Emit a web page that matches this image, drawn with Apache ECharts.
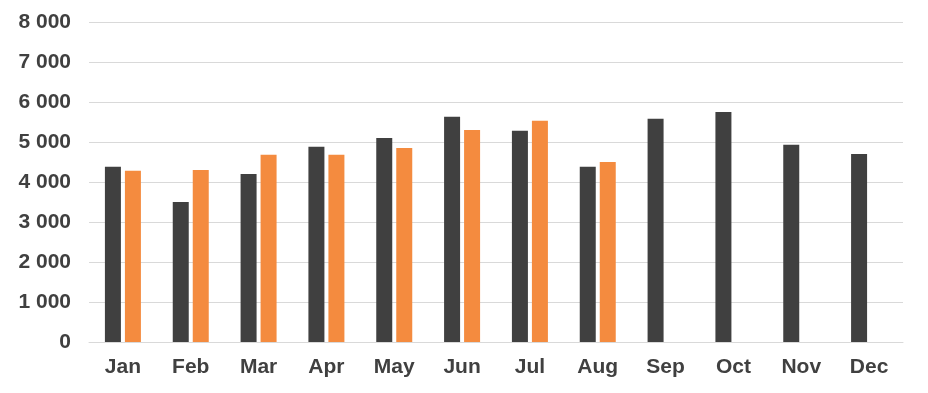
<!DOCTYPE html>
<html><head><meta charset="utf-8">
<script src="https://cdn.jsdelivr.net/npm/echarts@6/dist/echarts.min.js"></script>
<style>html,body{margin:0;padding:0;background:#fff}#c{width:928px;height:393px}</style>
</head><body><div id="c"></div>
<script>
const categories = ["Jan","Feb","Mar","Apr","May","Jun","Jul","Aug","Sep","Oct","Nov","Dec"];
const seriesDark = [4380,3500,4200,4880,5100,5630,5280,4380,5580,5750,4930,4700];
const seriesOrange = [4280,4300,4680,4680,4850,5300,5530,4500,null,null,null,null];
const yTicks = [0,1000,2000,3000,4000,5000,6000,7000,8000];

const chart = echarts.init(document.getElementById('c'), null, {renderer:'canvas'});
const fmt = v => String(v).replace(/\B(?=(\d{3})+(?!\d))/g, ' ');
chart.setOption({
  animation:false,
  grid:{left:89,right:25,top:22,bottom:51,containLabel:false},
  xAxis:{type:'category',data:categories,
    axisLine:{show:true,lineStyle:{color:'#D9D9D9',width:1}},
    axisTick:{show:false},
    axisLabel:{color:'#404040',fontFamily:'Liberation Sans, Arial, sans-serif',fontWeight:'bold',fontSize:21,margin:15}},
  yAxis:{type:'value',min:yTicks[0],max:yTicks[yTicks.length-1],interval:1000,
    axisLine:{show:false},axisTick:{show:false},
    splitLine:{lineStyle:{color:'#D9D9D9',width:1}},
    axisLabel:{color:'#404040',fontFamily:'Liberation Sans, Arial, sans-serif',fontWeight:'bold',fontSize:21,margin:18,formatter:fmt}},
  series:[
    {type:'bar',data:seriesDark,barWidth:16,barGap:'25%',itemStyle:{color:'#404040'}},
    {type:'bar',data:seriesOrange,barWidth:16,barGap:'25%',itemStyle:{color:'#F48B3F'}}
  ]
});
</script></body></html>
